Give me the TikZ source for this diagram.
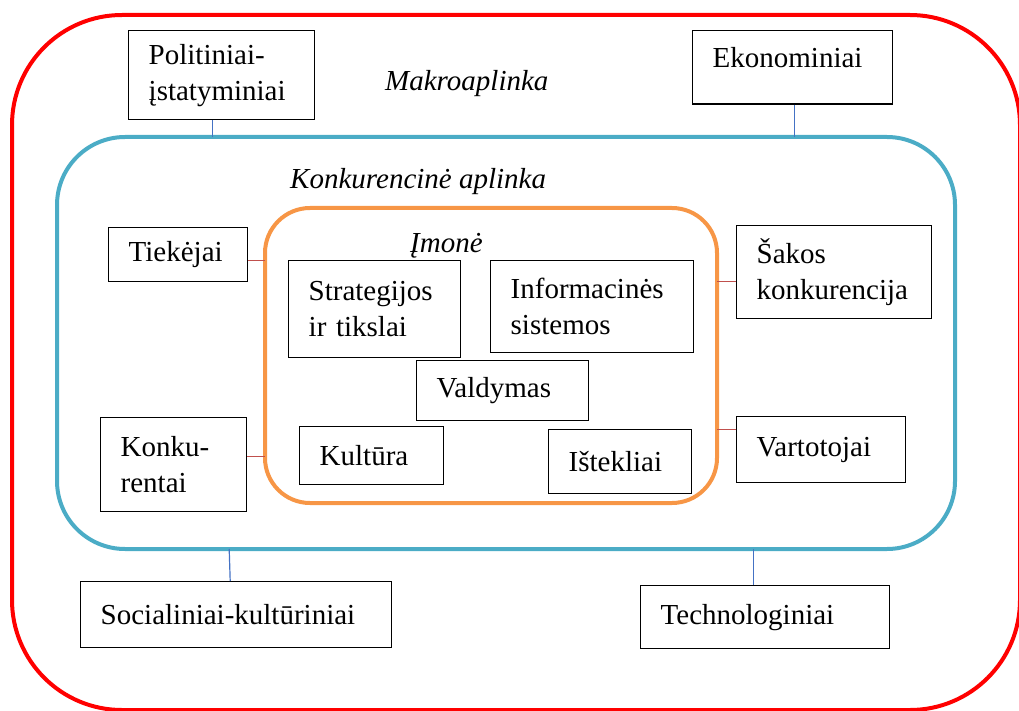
\documentclass[tikz,border=0pt]{standalone}
\usepackage{fontspec}
\setmainfont{Liberation Serif}
\definecolor{makrored}{HTML}{FF0000}
\definecolor{konkblue}{HTML}{4BACC6}
\definecolor{imoneorange}{HTML}{F79646}
\definecolor{linkblue}{HTML}{4472C4}
\definecolor{linkred}{HTML}{C0504D}
\hyphenpenalty=10000
\begin{document}
\begin{tikzpicture}[
  x=1pt, y=-1pt,
  font=\fontsize{29}{36}\selectfont,
  box/.style={draw, line width=1.4pt, anchor=north west, align=left,
              inner xsep=20pt, inner ysep=0pt},
  frame/.style={draw, line width=4pt, anchor=north west, inner sep=0pt, outer sep=0pt},
  tag/.style={anchor=base west, inner sep=0pt, font=\fontsize{29}{36}\selectfont\itshape},
  link/.style={line width=1.2pt, draw=linkblue},
  rlink/.style={line width=1.2pt, draw=linkred}
]
  \useasboundingbox (0,0) rectangle (1019,711);
  \clip (0,0) rectangle (1019,711);

  % environment frames
  \node[frame, draw=makrored, rounded corners=110pt, minimum width=1008pt, minimum height=695pt] (makro) at (12,15) {};
  \node[frame, draw=konkblue, rounded corners=68pt, minimum width=898pt, minimum height=412pt] (konk) at (57,137) {};
  \node[frame, draw=imoneorange, rounded corners=45pt, minimum width=452pt, minimum height=295pt] (imone) at (265,208) {};

  \node[tag] (makrotxt) at (385,91) {Makroaplinka};
  \node[tag] (konktxt) at (290,189) {Konkurencinė aplinka};
  \node[tag] (imonetxt) at (410,253) {Įmonė};

  % macro factors
  \node[box, text width=146pt, minimum height=89pt] (pol) at (128,30) {Politiniai-\\įstatyminiai};
  \node[box, text width=160pt, inner ysep=17pt, text depth=19pt] (ekon) at (692,30) {Ekonominiai};
  \node[box, text width=271pt, minimum height=66pt] (soc) at (80,581) {Socialiniai-kultūriniai};
  \node[box, text width=209pt, minimum height=63pt] (tech) at (640,585) {Technologiniai};

  % competitive environment
  \node[box, text width=99pt, minimum height=54pt] (tiek) at (108,227) {Tiekėjai};
  \node[box, text width=106pt, minimum height=94pt] (konku) at (100,417) {Konku-\\rentai};
  \node[box, text width=155pt, minimum height=93pt] (sakos) at (736,225) {Šakos\\konkurencija};
  \node[box, text width=129pt, minimum height=66pt] (vart) at (736,416) {Vartotojai};

  % company
  \node[box, text width=132pt, minimum height=97pt] (strat) at (288,260) {Strategijos\\ir tikslai};
  \node[box, text width=163pt, minimum height=92pt] (info) at (490,260) {Informacinės\\sistemos};
  \node[box, text width=132pt, minimum height=60pt] (vald) at (416,360) {Valdymas};
  \node[box, text width=104pt, minimum height=58pt] (kult) at (299,426) {Kultūra};
  \node[box, text width=103pt, minimum height=64pt] (istek) at (548,429) {Ištekliai};

  \draw[link] ([xshift=-9pt]pol.south) -- ([xshift=-9pt]pol.south |- konk.north);
  \draw[link] ([xshift=2pt]ekon.south) -- ([xshift=2pt]ekon.south |- konk.north);
  \draw[link] ([xshift=-6pt]soc.north) -- ([xshift=-7pt]soc.north |- konk.south);
  \draw[link] ([xshift=-12pt]tech.north) -- ([xshift=-12pt]tech.north |- konk.south);

  \draw[rlink] ([yshift=-6pt]tiek.east) -- ([yshift=-6pt]tiek.east -| imone.west);
  \draw[rlink] ([yshift=8pt]konku.east) -- ([yshift=8pt]konku.east -| imone.west);
  \draw[rlink] ([yshift=-9.5pt]sakos.west) -- ([yshift=-9.5pt]sakos.west -| imone.east);
  \draw[rlink] ([yshift=20pt]vart.west) -- ([yshift=20pt]vart.west -| imone.east);
\end{tikzpicture}
\end{document}
